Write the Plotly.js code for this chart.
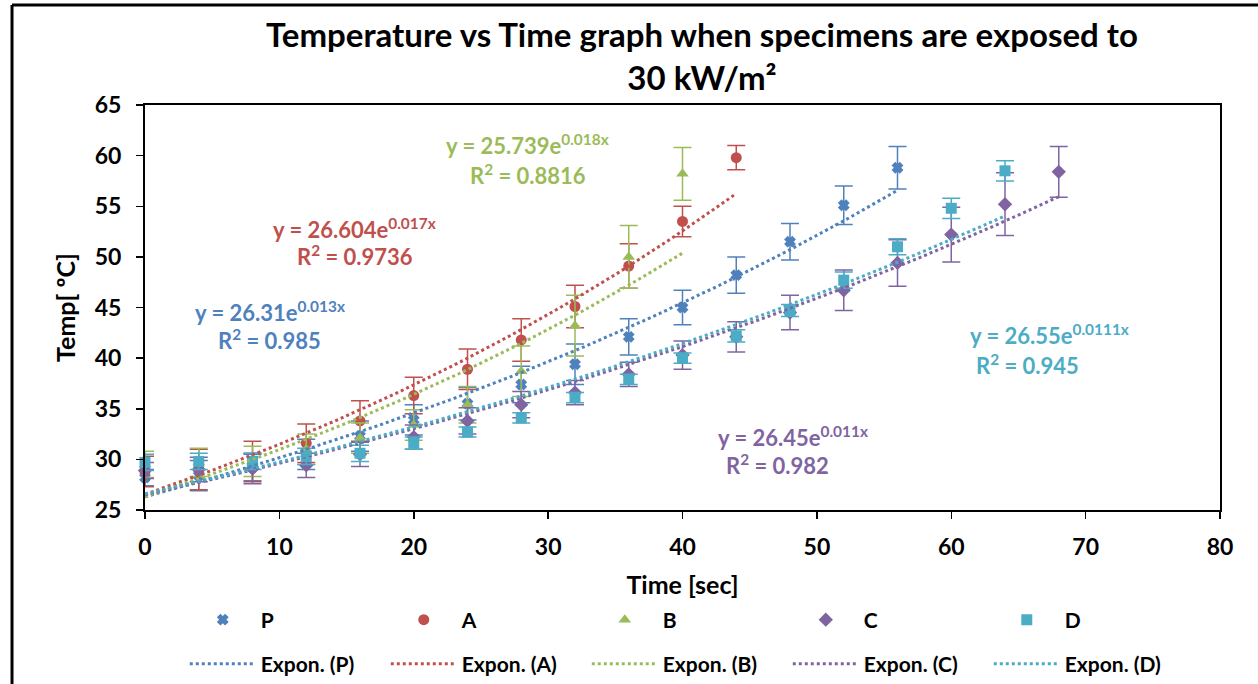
<!DOCTYPE html>
<html>
<head>
<meta charset="utf-8">
<script src="https://cdn.plot.ly/plotly-3.0.1.min.js"></script>
<style>html,body{margin:0;padding:0;background:#fff;}#chart{width:1258px;height:684px;}</style>
</head>
<body>
<div id="chart"></div>
<script>
// ---- data ----
const timeP = [0,4,8,12,16,20,24,28,32,36,40,44,48,52,56];
const tempP = [28.2,28.4,29.2,30.5,32.3,33.9,35.5,37.4,39.4,42.1,45.0,48.2,51.5,55.1,58.8];
const errP  = [0.8,1.5,1.3,1.5,1.5,1.5,1.6,1.8,2.0,1.8,1.7,1.8,1.8,1.9,2.1];

const timeA = [0,4,8,12,16,20,24,28,32,36,40,44];
const tempA = [28.8,29.0,29.8,31.6,33.8,36.3,38.9,41.8,45.1,49.1,53.5,59.8];
const errA  = [1.5,2.0,2.0,1.9,2.0,1.8,2.0,2.1,2.1,2.2,1.5,1.2];

const timeB = [0,4,8,12,16,20,24,28,32,36,40];
const tempB = [29.5,29.7,29.8,31.0,32.1,33.4,35.4,38.7,43.2,50.0,58.2];
const errB  = [1.3,1.4,1.5,1.5,1.5,1.5,1.8,2.5,3.0,3.1,2.6];

const timeC = [0,4,8,12,16,20,24,28,32,36,40,44,48,52,56,60,64,68];
const tempC = [28.9,29.0,29.1,29.4,30.5,32.2,33.8,35.4,36.6,38.4,40.3,42.1,44.5,46.7,49.4,52.2,55.2,58.4];
const errC  = [0.8,1.2,1.5,1.2,1.2,1.2,1.3,1.3,1.2,1.2,1.4,1.5,1.7,2.0,2.3,2.7,3.1,2.5];

const timeD = [0,4,8,12,16,20,24,28,32,36,40,44,48,52,56,60,64];
const tempD = [29.7,29.8,29.8,30.3,30.6,31.6,32.7,34.1,36.1,37.9,40.0,42.2,44.7,47.7,51.0,54.8,58.5];
const errD  = [0.8,0.8,0.8,0.8,0.8,0.6,0.5,0.5,0.5,0.5,0.5,0.6,0.6,0.8,0.8,1.0,1.0];

const seriesNames = ['P','A','B','C','D'];
const seriesColors = ['#4F81BD','#C0504D','#9BBB59','#8064A2','#4BACC6'];
const seriesSymbols = ['x','circle','triangle-up','diamond','square'];
const seriesSizes = [8,11,11,11,11];

// trendline labels as printed on the chart
const eqCoef = ['26.31','26.604','25.739','26.45','26.55'];
const eqExp  = ['0.013','0.017','0.018','0.011','0.0111'];
const eqR2   = ['0.985','0.9736','0.8816','0.982','0.945'];

const xTicks = [0,10,20,30,40,50,60,70,80];
const yTicks = [25,30,35,40,45,50,55,60,65];

// ---- build ----
const allX = [timeP,timeA,timeB,timeC,timeD];
const allY = [tempP,tempA,tempB,tempC,tempD];
const allE = [errP,errA,errB,errC,errD];

// exponential least-squares fit (ln y linear in x), as a spreadsheet trendline does
function expFit(xs, ys){
  const n = xs.length;
  const ly = ys.map(v=>Math.log(v));
  const mx = xs.reduce((a,b)=>a+b,0)/n;
  const my = ly.reduce((a,b)=>a+b,0)/n;
  let sxy=0, sxx=0;
  for(let i=0;i<n;i++){ sxy += (xs[i]-mx)*(ly[i]-my); sxx += (xs[i]-mx)*(xs[i]-mx); }
  const b = sxy/sxx;
  const a = Math.exp(my - b*mx);
  return {a,b};
}

const fontFam = 'Lato, "Open Sans", sans-serif';
const traces = [];
for(let i=0;i<5;i++){
  traces.push({
    type:'scatter', mode:'markers', name:seriesNames[i],
    x:allX[i], y:allY[i],
    marker:{symbol:seriesSymbols[i], size:seriesSizes[i], color:seriesColors[i],
            line:{color:seriesColors[i], width: i===0?2:0}},
    error_y:{type:'data', array:allE[i], visible:true, color:seriesColors[i], thickness:1.5, width:9},
    legend:'legend', cliponaxis:false
  });
}
for(let i=0;i<5;i++){
  const f = expFit(allX[i], allY[i]);
  const xs = allX[i];
  const xmax = xs[xs.length-1];
  const fx = [], fy = [];
  const steps = xmax*2;
  for(let k=0;k<=steps;k++){ const xv = xmax*k/steps; fx.push(xv); fy.push(f.a*Math.exp(f.b*xv)); }
  traces.push({
    type:'scatter', mode:'lines', name:'Expon. ('+seriesNames[i]+')',
    x:fx, y:fy, line:{color:seriesColors[i], width:3, dash:'dot'},
    legend:'legend2', hoverinfo:'skip'
  });
}

// annotation positions (data coords)
const annPos = [
  {x1:9.3,  y1:44.65, x2:9.3,  y2:41.8},  // P
  {x1:15.6, y1:52.85, x2:15.6, y2:50.1},  // A
  {x1:28.5, y1:61.05, x2:28.5, y2:58.1},  // B
  {x1:48.2, y1:32.3,  x2:47.1, y2:29.5},  // C
  {x1:67.3, y1:42.3,  x2:65.7, y2:39.4}   // D
];
const annotations = [];
for(let i=0;i<5;i++){
  annotations.push({
    xref:'x', yref:'y', x:annPos[i].x1, y:annPos[i].y1, showarrow:false,
    text:'<b>y = '+eqCoef[i]+'e<sup>'+eqExp[i]+'x</sup></b>',
    font:{family:fontFam, size:22, color:seriesColors[i]}
  });
  annotations.push({
    xref:'x', yref:'y', x:annPos[i].x2, y:annPos[i].y2, showarrow:false,
    text:'<b>R<sup>2</sup> = '+eqR2[i]+'</b>',
    font:{family:fontFam, size:22, color:seriesColors[i]}
  });
}

const legendFont = {family:fontFam, size:21, color:'#000', weight:'bold'};
const layout = {
  width:1258, height:684,
  margin:{l:145, r:38, t:105, b:174, autoexpand:false},
  paper_bgcolor:'#fff', plot_bgcolor:'#fff',
  font:{family:fontFam, color:'#000', size:18},
  title:{text:'<b>Temperature vs Time graph when specimens are exposed to<br>30 kW/m²</b>',
         font:{family:fontFam, size:33, color:'#000'},
         xref:'container', yref:'container', x:0.558, xanchor:'center', y:0.931, yanchor:'top'},
  xaxis:{range:[0,80], tickvals:xTicks, ticktext:xTicks.map(v=>'<b>'+v+'</b>'),
         showgrid:false, zeroline:false, showline:true, linecolor:'#000', linewidth:2, mirror:true,
         ticks:'outside', ticklen:7, tickwidth:1.5, tickcolor:'#000', ticklabelstandoff:8,
         tickfont:{family:fontFam, size:23, color:'#000'},
         title:{text:'<b>Time [sec]</b>', font:{family:fontFam, size:25, color:'#000'}, standoff:42}},
  yaxis:{range:[25,65], tickvals:yTicks, ticktext:yTicks.map(v=>'<b>'+v+'</b>'),
         showgrid:false, zeroline:false, showline:true, linecolor:'#000', linewidth:2, mirror:true,
         ticks:'outside', ticklen:7, tickwidth:1.5, tickcolor:'#000', ticklabelstandoff:10,
         tickfont:{family:fontFam, size:23, color:'#000'},
         title:{text:'<b>Temp[ ºC]</b>', font:{family:fontFam, size:25, color:'#000'}, standoff:12}},
  showlegend:true,
  legend:{orientation:'h', xref:'paper', x:0.037, xanchor:'left', yref:'container', y:0.0936, yanchor:'middle',
          entrywidth:120, entrywidthmode:'pixels', itemwidth:66,
          font:legendFont, bgcolor:'rgba(0,0,0,0)'},
  legend2:{orientation:'h', xref:'paper', x:0.037, xanchor:'left', yref:'container', y:0.029, yanchor:'middle',
          entrywidth:120, entrywidthmode:'pixels', itemwidth:66,
          font:legendFont, bgcolor:'rgba(0,0,0,0)'},
  annotations:annotations,
  shapes:[
    {type:'line', xref:'paper', yref:'paper', x0:-0.1237, x1:-0.1237, y0:1.2469, y1:-0.5, line:{color:'#000', width:3}},
    {type:'line', xref:'paper', yref:'paper', x0:-0.1237, x1:1.06, y0:1.2469, y1:1.2469, line:{color:'#000', width:3}}
  ]
};

Plotly.newPlot('chart', traces, layout, {displayModeBar:false, staticPlot:true});
</script>
</body>
</html>
